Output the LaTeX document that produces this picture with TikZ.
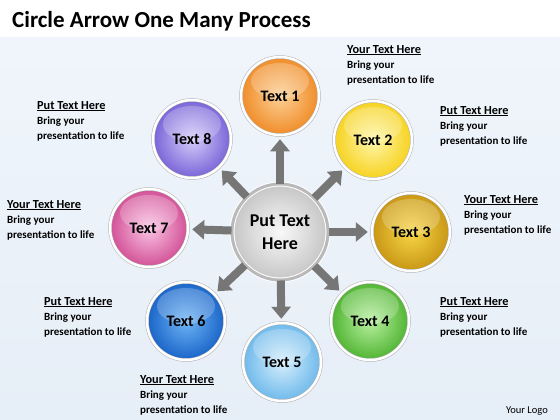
\documentclass[tikz,border=0pt]{standalone}
\usepackage{fontspec}
\setmainfont{Carlito}
\usetikzlibrary{arrows.meta,shadows}
\definecolor{bgtop}{RGB}{240,245,251}
\definecolor{bgbot}{RGB}{230,238,247}
\definecolor{arrgray}{RGB}{118,118,118}
\definecolor{orangeA}{RGB}{252,208,150}\definecolor{orangeB}{RGB}{240,140,40}
\definecolor{yellowA}{RGB}{255,246,170}\definecolor{yellowB}{RGB}{246,210,30}
\definecolor{goldA}{RGB}{248,214,70}\definecolor{goldB}{RGB}{200,150,20}
\definecolor{greenA}{RGB}{184,240,160}\definecolor{greenB}{RGB}{80,180,50}
\definecolor{skyA}{RGB}{214,238,252}\definecolor{skyB}{RGB}{110,185,235}
\definecolor{blueA}{RGB}{110,180,245}\definecolor{blueB}{RGB}{25,100,200}
\definecolor{pinkA}{RGB}{250,196,228}\definecolor{pinkB}{RGB}{210,80,150}
\definecolor{purpA}{RGB}{214,204,250}\definecolor{purpB}{RGB}{120,100,215}
\newcommand{\notehead}[1]{\underline{\fontsize{12.3}{14}\selectfont #1}}
\begin{document}
\begin{tikzpicture}[x=1pt,y=-1pt,
ball/.style={circle,minimum size=78pt,inner sep=0pt,draw=black!30,double=white,double distance=2.5pt,line width=.5pt,font=\fontsize{16}{18}\selectfont\bfseries,drop shadow={shadow xshift=1pt,shadow yshift=-1.5pt,opacity=.25},path picture={\fill[white,opacity=.22] ([yshift=15pt]path picture bounding box.center) ellipse (29pt and 18pt);}},
cen/.style={circle,minimum size=96pt,inner sep=0pt,draw=white,double=gray!55,double distance=3pt,line width=1pt,inner color=gray!5,outer color=gray!45,align=center,font=\fontsize{18}{23}\selectfont\bfseries,drop shadow={shadow xshift=1pt,shadow yshift=-1.5pt,opacity=.25}},
note/.style={anchor=north west,align=left,inner sep=0pt,font=\fontsize{11}{15}\selectfont\bfseries},
arr/.style={draw=arrgray,line width=8pt,-{Triangle[width=19pt,length=12pt]},shorten >=4pt}]
\useasboundingbox (0,0) rectangle (560,420);
\fill[white] (0,0) rectangle (560,420);
\fill[top color=bgtop,bottom color=bgbot] (0,38) rectangle (560,420);
\node[anchor=base west,inner sep=0pt,font=\fontsize{23}{26}\selectfont\bfseries] (title) at (12,28) {Circle Arrow One Many Process};
\node[anchor=base east,inner sep=0pt,font=\fontsize{10.5}{12}\selectfont] (logo) at (548,413) {Your Logo};
\node[cen] (c) at (280,232) {Put Text\\Here};
\node[ball,inner color=orangeA,outer color=orangeB] (t1) at (280,96) {Text 1};
\node[ball,inner color=yellowA,outer color=yellowB] (t2) at (373,140) {Text 2};
\node[ball,inner color=goldA,outer color=goldB] (t3) at (411,232) {Text 3};
\node[ball,inner color=greenA,outer color=greenB] (t4) at (370,321) {Text 4};
\node[ball,inner color=skyA,outer color=skyB] (t5) at (282,362) {Text 5};
\node[ball,inner color=blueA,outer color=blueB] (t6) at (186,321) {Text 6};
\node[ball,inner color=pinkA,outer color=pinkB] (t7) at (149,228) {Text 7};
\node[ball,inner color=purpA,outer color=purpB] (t8) at (192,139) {Text 8};
\foreach \i in {1,...,8} \draw[arr] (c) -- (t\i);
\node[note] (n1) at (347,45) {\notehead{Your Text Here}\\Bring your\\presentation to life};
\node[note] (n2) at (440,106) {\notehead{Put Text Here}\\Bring your\\presentation to life};
\node[note] (n3) at (464,195) {\notehead{Your Text Here}\\Bring your\\presentation to life};
\node[note] (n4) at (440,297) {\notehead{Put Text Here}\\Bring your\\presentation to life};
\node[note] (n5) at (140,375) {\notehead{Your Text Here}\\Bring your\\presentation to life};
\node[note] (n6) at (44,297) {\notehead{Put Text Here}\\Bring your\\presentation to life};
\node[note] (n7) at (7,200) {\notehead{Your Text Here}\\Bring your\\presentation to life};
\node[note] (n8) at (37,101) {\notehead{Put Text Here}\\Bring your\\presentation to life};
\end{tikzpicture}
\end{document}
